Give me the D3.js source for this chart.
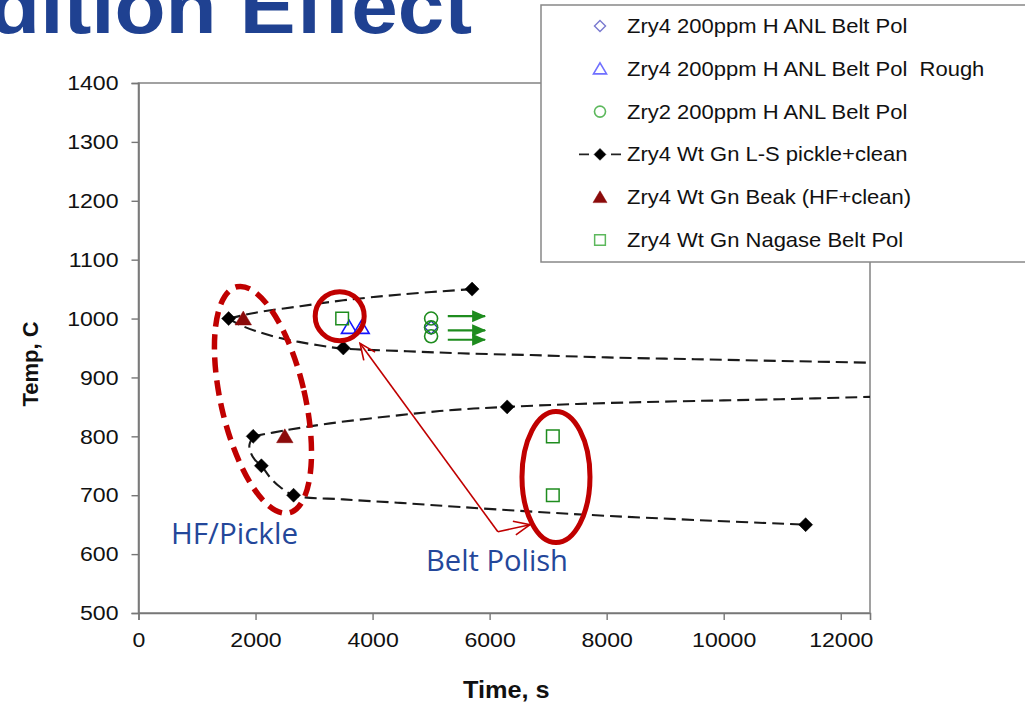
<!DOCTYPE html>
<html>
<head>
<meta charset="utf-8">
<script src="https://cdn.jsdelivr.net/npm/d3@7"></script>
<style>
  html, body { margin: 0; padding: 0; background: #fff; overflow: hidden; }
  svg { display: block; }
  text { white-space: pre; }
  .tick text { font-family: Arial, "Liberation Sans", sans-serif; font-size: 21px; fill: #111; }
</style>
</head>
<body>
<svg id="chart" width="1025" height="704"></svg>
<script>
// axis ticks
const xTicks = [0, 2000, 4000, 6000, 8000, 10000, 12000];
const yTicks = [500, 600, 700, 800, 900, 1000, 1100, 1200, 1300, 1400];

// series names, in legend order
const seriesNames = [
  'Zry4 200ppm H ANL Belt Pol',
  'Zry4 200ppm H ANL Belt Pol  Rough',
  'Zry2 200ppm H ANL Belt Pol',
  'Zry4 Wt Gn L-S pickle+clean',
  'Zry4 Wt Gn Beak (HF+clean)',
  'Zry4 Wt Gn Nagase Belt Pol'
];

// [time s, temp C]
const anlBeltPol = [[5000, 985]];
const anlBeltPolRough = [[3600, 985], [3810, 985]];
const zry2BeltPol = [[5000, 1000], [5000, 985], [5000, 970]];
const lsPickle = [[1540, 1000], [3500, 950], [5700, 1050], [1960, 800], [2100, 750], [2650, 700], [6300, 850], [11400, 650]];
const beakHF = [[1790, 1000], [2500, 800]];
const nagaseBeltPol = [[3480, 1000], [7080, 800], [7080, 700]];

// dashed fit curves
const fitA = [[1540, 1000], [2000, 1010], [2765, 1021], [3500, 1031], [4500, 1041], [5700, 1050]];
const fitB = [[1540, 1000], [1740, 989], [2000, 979], [2420, 967], [3050, 955], [3500, 949], [4470, 945],
  [5500, 941], [6700, 938], [8000, 934], [9500, 931], [11000, 928], [12500, 925]];
const fitC = [[1960, 800], [2500, 810], [3273, 822], [4470, 836], [5400, 845], [6300, 850], [7500, 855],
  [9000, 859], [10966, 863], [12500, 867]];
const fitD = [[1960, 800], [1895, 785], [1920, 772], [1990, 760], [2100, 750], [2250, 730], [2420, 714],
  [2650, 700], [3500, 693], [4470, 687], [5500, 680], [6744, 672], [8000, 665], [9500, 658], [11400, 650]];

// green "still running" arrows: [t0, t1, temp]
const runArrows = [[5285, 5923, 1004], [5285, 5923, 980], [5285, 5923, 964]];

const svg = d3.select('#chart');
const plot = { left: 138.5, right: 870, top: 83, bottom: 613 };

const x = d3.scaleLinear().domain([0, 12500]).range([plot.left, plot.right]);
const y = d3.scaleLinear().domain([500, 1400]).range([plot.bottom, plot.top]);

const RED = '#c00000';
const GREEN = '#1e8c1e';
const BLUE_TXT = '#24479a';
const STRETCH = 1.1;

const defs = svg.append('defs');
defs.append('clipPath').attr('id', 'clip')
  .append('rect')
  .attr('x', plot.left).attr('y', plot.top)
  .attr('width', plot.right - plot.left).attr('height', plot.bottom - plot.top);

defs.append('marker')
  .attr('id', 'redHead')
  .attr('markerUnits', 'userSpaceOnUse')
  .attr('markerWidth', 20).attr('markerHeight', 20)
  .attr('viewBox', '0 0 20 20')
  .attr('refX', 18).attr('refY', 10)
  .attr('orient', 'auto')
  .append('path')
  .attr('d', 'M2,3 L18,10 L2,17')
  .attr('fill', 'none').attr('stroke', RED).attr('stroke-width', 1.6);

defs.append('marker')
  .attr('id', 'greenHead')
  .attr('markerUnits', 'userSpaceOnUse')
  .attr('markerWidth', 14).attr('markerHeight', 12)
  .attr('viewBox', '0 0 14 12')
  .attr('refX', 13).attr('refY', 6)
  .attr('orient', 'auto')
  .append('path')
  .attr('d', 'M0,0 L14,6 L0,12 Z')
  .attr('fill', GREEN);

// text helper with horizontal stretch like the source
function stext(parent, tx, ty, str, opts) {
  const g = parent.append('g').attr('transform', `translate(${tx},${ty}) scale(${opts.sx || STRETCH},1)`);
  return g.append('text')
    .attr('text-anchor', opts.anchor || 'start')
    .attr('font-family', opts.family || 'Arial, "Liberation Sans", sans-serif')
    .attr('font-size', opts.size)
    .attr('font-weight', opts.weight || 'normal')
    .attr('fill', opts.fill || '#111')
    .text(str);
}

// marker shapes
const shapes = {
  diamond: (r) => `M0,${-r}L${r},0L0,${r}L${-r},0Z`,
  triangle: (r) => `M0,${-r}L${r * 1.1},${r * 0.85}L${-r * 1.1},${r * 0.85}Z`,
  square: (r) => `M${-r},${-r}H${r}V${r}H${-r}Z`,
  circle: (r) => `M${-r},0A${r},${r} 0 1,0 ${r},0A${r},${r} 0 1,0 ${-r},0Z`
};

const styles = [
  { shape: 'diamond', r: 6.5, fill: 'none', stroke: '#2b35b0', sw: 1.4 },
  { shape: 'triangle', r: 7, fill: 'none', stroke: '#1414ff', sw: 1.6 },
  { shape: 'circle', r: 6.5, fill: 'none', stroke: GREEN, sw: 1.6 },
  { shape: 'diamond', r: 7, fill: '#000', stroke: '#000', sw: 0.5 },
  { shape: 'triangle', r: 7.5, fill: '#8b0a0a', stroke: '#8b0a0a', sw: 0.5 },
  { shape: 'square', r: 6.3, fill: 'none', stroke: GREEN, sw: 1.5 }
];
const seriesData = [anlBeltPol, anlBeltPolRough, zry2BeltPol, lsPickle, beakHF, nagaseBeltPol];

// title (cut off at top, as in the slide)
stext(svg, 472, 33, 'dition Effect', { size: 76, weight: 'bold', fill: '#1f4191', anchor: 'end' });

// plot area border
svg.append('rect')
  .attr('x', plot.left).attr('y', plot.top)
  .attr('width', plot.right - plot.left).attr('height', plot.bottom - plot.top)
  .attr('fill', 'none').attr('stroke', '#8a8a8a').attr('stroke-width', 1.6);

// axes
const yAxis = svg.append('g')
  .attr('transform', `translate(${plot.left},0)`)
  .call(d3.axisLeft(y).tickValues(yTicks).tickSize(7).tickPadding(8).tickFormat(d3.format('d')));
const xAxis = svg.append('g')
  .attr('transform', `translate(0,${plot.bottom})`)
  .call(d3.axisBottom(x).tickValues(xTicks).tickSize(7).tickPadding(12).tickFormat(d3.format('d')));
[yAxis, xAxis].forEach((a) => {
  a.select('.domain').attr('stroke', '#777').attr('stroke-width', 1.6);
  a.selectAll('.tick line').attr('stroke', '#777').attr('stroke-width', 1.4);
});
yAxis.selectAll('.tick text').attr('transform', `scale(${STRETCH},1)`).attr('x', -20 / STRETCH);
xAxis.selectAll('.tick text').attr('transform', `scale(${STRETCH},1)`);

// axis titles
stext(svg, (plot.left + plot.right) / 2 + 2, 698, 'Time, s', { size: 23, weight: 'bold', anchor: 'middle' });
svg.append('text')
  .attr('transform', `translate(38,${(plot.top + plot.bottom) / 2 + 16}) rotate(-90)`)
  .attr('text-anchor', 'middle')
  .attr('font-family', 'Arial, "Liberation Sans", sans-serif')
  .attr('font-size', 22).attr('font-weight', 'bold').attr('fill', '#111')
  .text('Temp, C');

// dashed fit curves
const lineGen = d3.line().x((d) => x(d[0])).y((d) => y(d[1])).curve(d3.curveCatmullRom.alpha(0.5));
const curves = svg.append('g').attr('clip-path', 'url(#clip)');
curves.selectAll('path.fit')
  .data([fitA, fitB, fitC, fitD])
  .join('path')
  .attr('class', 'fit')
  .attr('d', lineGen)
  .attr('fill', 'none')
  .attr('stroke', '#1a1a1a')
  .attr('stroke-width', 2.1)
  .attr('stroke-dasharray', '12,6');

// green arrows
svg.append('g').selectAll('line')
  .data(runArrows)
  .join('line')
  .attr('x1', (d) => x(d[0])).attr('x2', (d) => x(d[1]))
  .attr('y1', (d) => y(d[2])).attr('y2', (d) => y(d[2]))
  .attr('stroke', GREEN).attr('stroke-width', 2.2)
  .attr('marker-end', 'url(#greenHead)');

// markers
const markG = svg.append('g');
seriesData.forEach((data, i) => {
  const s = styles[i];
  markG.append('g').selectAll('path')
    .data(data)
    .join('path')
    .attr('transform', (d) => `translate(${x(d[0])},${y(d[1])})`)
    .attr('d', shapes[s.shape](s.r))
    .attr('fill', s.fill)
    .attr('stroke', s.stroke)
    .attr('stroke-width', s.sw);
});

// red annotations
const ann = svg.append('g');
const eC = [2127, 862];
ann.append('ellipse')
  .attr('cx', x(eC[0])).attr('cy', y(eC[1]))
  .attr('rx', 42).attr('ry', 116)
  .attr('transform', `rotate(-13,${x(eC[0])},${y(eC[1])})`)
  .attr('fill', 'none').attr('stroke', RED).attr('stroke-width', 5.5)
  .attr('stroke-dasharray', '15,8');
const cC = [3438, 1004];
ann.append('circle')
  .attr('cx', x(cC[0])).attr('cy', y(cC[1])).attr('r', 24.5)
  .attr('fill', 'none').attr('stroke', RED).attr('stroke-width', 5);
const e2C = [7134, 731];
ann.append('ellipse')
  .attr('cx', x(e2C[0])).attr('cy', y(e2C[1]))
  .attr('rx', 34).attr('ry', 65.5)
  .attr('fill', 'none').attr('stroke', RED).attr('stroke-width', 5);

const vertex = [6141, 638];
const tips = [[3785, 958], [6690, 650]];
ann.selectAll('line.ptr')
  .data(tips)
  .join('line')
  .attr('class', 'ptr')
  .attr('x1', x(vertex[0])).attr('y1', y(vertex[1]))
  .attr('x2', (d) => x(d[0])).attr('y2', (d) => y(d[1]))
  .attr('stroke', RED).attr('stroke-width', 1.6)
  .attr('marker-end', 'url(#redHead)');

const calibri = '"Open Sans", "Noto Sans", sans-serif';
stext(svg, 171, 544, 'HF/Pickle', { size: 29, weight: 500, family: calibri, fill: BLUE_TXT, sx: 1.0 })
  .attr('textLength', 127).attr('lengthAdjust', 'spacingAndGlyphs');
stext(svg, 426, 571, 'Belt Polish', { size: 29, weight: 500, family: calibri, fill: BLUE_TXT, sx: 1.0 })
  .attr('textLength', 142).attr('lengthAdjust', 'spacingAndGlyphs');

// legend
const leg = svg.append('g');
leg.append('rect')
  .attr('x', 541).attr('y', 5).attr('width', 520).attr('height', 257)
  .attr('fill', '#fff').attr('stroke', '#888').attr('stroke-width', 1.5);
const rowY = (i) => 26 + i * 42.8;
seriesNames.forEach((name, i) => {
  const s = styles[i];
  const row = leg.append('g').attr('transform', `translate(600,${rowY(i)})`);
  if (i === 3) {
    row.append('line').attr('x1', -22).attr('x2', 22).attr('y1', 0).attr('y2', 0)
      .attr('stroke', '#222').attr('stroke-width', 1.8).attr('stroke-dasharray', '10,6').attr('stroke-dashoffset', -1);
  }
  row.append('path')
    .attr('d', shapes[s.shape](s.r * 0.85))
    .attr('fill', s.fill)
    .attr('stroke', s.stroke === GREEN ? '#5cb85c' : (i === 1 ? '#6f6fff' : (i === 0 ? '#7a7ad0' : s.stroke)))
    .attr('stroke-width', s.sw);
  stext(leg, 627, rowY(i) + 7, name, { size: 20 });
});
</script>
</body>
</html>
